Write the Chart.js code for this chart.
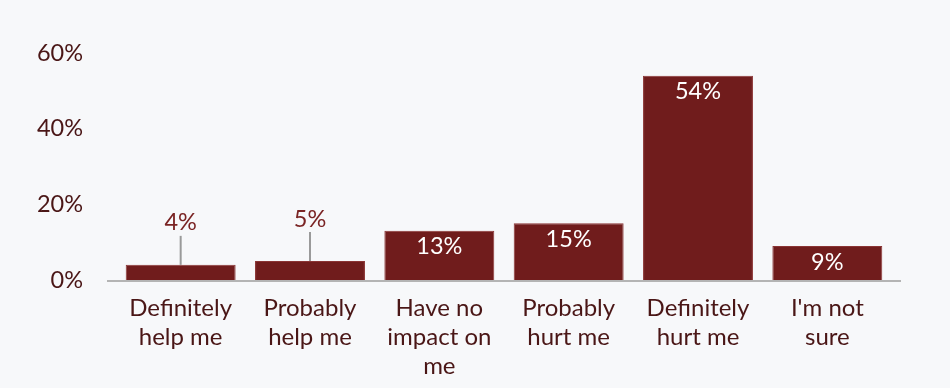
<!DOCTYPE html>
<html>
<head>
<meta charset="utf-8">
<script src="https://cdn.jsdelivr.net/npm/chart.js@4.4.1/dist/chart.umd.min.js"></script>
<style>
html, body { margin: 0; padding: 0; background: #f7f8fa; }
#wrap { width: 950px; height: 388px; position: relative; }
</style>
</head>
<body>
<div id="wrap"><canvas id="chart"></canvas></div>
<script>
// data
const categories = [
    ['Definitely', 'help me'],
    ['Probably', 'help me'],
    ['Have no', 'impact on', 'me'],
    ['Probably', 'hurt me'],
    ['Definitely', 'hurt me'],
    ["I'm not", 'sure']
];
const values = [4, 5, 13, 15, 54, 9];
const yTicks = [0, 20, 40, 60];

const barColor = '#701c1c';
const textColor = '#4a1616';

// gray baseline a little wider than the bars
const baseLine = {
    id: 'baseLine',
    afterDatasetsDraw(chart) {
        const ctx = chart.ctx;
        const y = chart.scales.y.getPixelForValue(0) + 1;
        ctx.save();
        ctx.strokeStyle = '#b4b4b4';
        ctx.lineWidth = 2;
        ctx.beginPath();
        ctx.moveTo(chart.chartArea.left - 9, y);
        ctx.lineTo(chart.chartArea.right + 9, y);
        ctx.stroke();
        ctx.restore();
    }
};

// value labels: inside the bar when it fits, otherwise above with a leader line
const valueLabels = {
    id: 'valueLabels',
    afterDatasetsDraw(chart) {
        const ctx = chart.ctx;
        const meta = chart.getDatasetMeta(0);
        ctx.save();
        ctx.font = '23.5px Lato';
        ctx.textAlign = 'center';
        ctx.textBaseline = 'middle';
        meta.data.forEach((bar, i) => {
            const txt = values[i] + '%';
            const h = bar.base - bar.y;
            if (h >= 30) {
                ctx.fillStyle = '#ffffff';
                ctx.fillText(txt, bar.x, bar.y + 16);
            } else {
                const top = bar.y - 29;
                ctx.strokeStyle = '#9a9a9a';
                ctx.lineWidth = 2;
                ctx.beginPath();
                ctx.moveTo(bar.x, bar.y);
                ctx.lineTo(bar.x, top);
                ctx.stroke();
                ctx.fillStyle = '#7a2424';
                ctx.fillText(txt, bar.x, top - 13);
            }
        });
        ctx.restore();
    }
};

new Chart(document.getElementById('chart'), {
    type: 'bar',
    data: {
        labels: categories,
        datasets: [{
            data: values,
            backgroundColor: barColor,
            borderColor: '#8a3434',
            borderWidth: 1,
            barPercentage: 0.85,
            categoryPercentage: 1
        }]
    },
    options: {
        responsive: true,
        maintainAspectRatio: false,
        animation: false,
        layout: { padding: { top: 53, right: 58, left: 0, bottom: 0 } },
        plugins: { legend: { display: false }, tooltip: { enabled: false } },
        scales: {
            x: {
                grid: { display: false },
                border: { display: false },
                ticks: {
                    color: textColor,
                    font: { family: 'Lato', size: 24, lineHeight: 1.2 },
                    padding: 6,
                    maxRotation: 0,
                    autoSkip: false
                },
                afterFit(scale) { scale.height = 108; }
            },
            y: {
                min: 0,
                max: 60,
                afterBuildTicks(scale) { scale.ticks = yTicks.map(v => ({ value: v })); },
                grid: { display: false, drawTicks: false },
                border: { display: false },
                ticks: {
                    color: textColor,
                    font: { family: 'Lato', size: 23.5 },
                    padding: 33,
                    callback: v => v + '%'
                },
                afterFit(scale) { scale.width = 116; }
            }
        }
    },
    plugins: [baseLine, valueLabels]
});
</script>
</body>
</html>
